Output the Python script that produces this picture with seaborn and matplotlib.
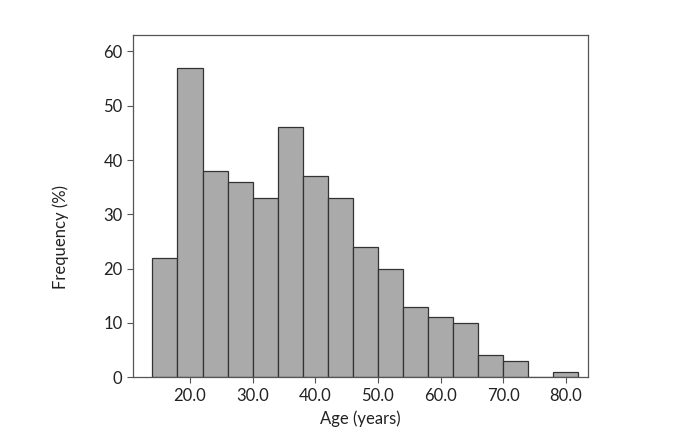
import numpy as np
import pandas as pd
import seaborn as sns
import matplotlib.pyplot as plt

bin_edges = [14, 18, 22, 26, 30, 34, 38, 42, 46, 50, 54, 58, 62, 66, 70, 74, 78, 82]
frequency = [22, 57, 38, 36, 33, 46, 37, 33, 24, 20, 13, 11, 10, 4, 3, 0, 1]
x_ticks = [20, 30, 40, 50, 60, 70, 80]
y_ticks = [0, 10, 20, 30, 40, 50, 60]

centers = [(a + b) / 2 for a, b in zip(bin_edges[:-1], bin_edges[1:])]
df = pd.DataFrame({'Age': centers, 'Frequency': frequency})

sns.set_style('white')
plt.rcParams['font.family'] = ['Lato', 'DejaVu Sans']

fig = plt.figure(figsize=(6.82, 4.29), dpi=100)
ax = fig.add_axes([0.195, 0.121, 0.667, 0.797])
sns.histplot(data=df, x='Age', weights='Frequency', bins=bin_edges,
             color='#aaaaaa', alpha=1, edgecolor='#333333', linewidth=0.9, ax=ax)

ax.set_xlim(10.9, 83.5)
ax.set_ylim(0, 63)
ax.set_xticks(x_ticks)
ax.set_xticklabels([f'{t:.1f}' for t in x_ticks])
ax.set_yticks(y_ticks)
ax.set_xlabel('Age (years)', fontsize=12, color='#222222', labelpad=5)
ax.set_ylabel('Frequency (%)', fontsize=12, color='#222222')
ax.yaxis.set_label_coords(-0.14, 0.41)
ax.tick_params(axis='both', which='both', direction='out', length=4, width=0.8,
               color='#555555', labelsize=12, labelcolor='#222222',
               bottom=True, left=True)
for s in ax.spines.values():
    s.set_color('#555555')
    s.set_linewidth(0.9)

fig.savefig('out.png', dpi=100)
